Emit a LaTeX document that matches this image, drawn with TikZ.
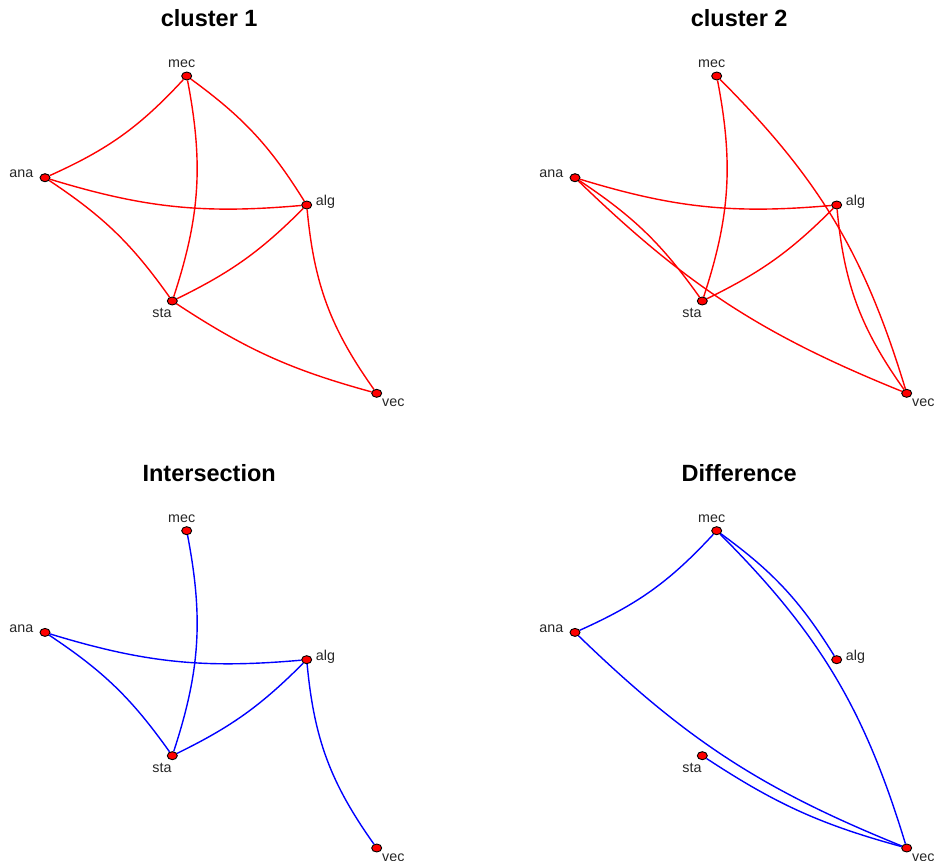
\documentclass[tikz,border=0pt]{standalone}
\usepackage{fontspec}
\setmainfont{Liberation Sans}
\usetikzlibrary{shapes.geometric,backgrounds}
\tikzset{
 vert/.style={ellipse,draw=black,fill=red,line width=0.9pt,minimum width=10pt,minimum height=8pt,inner sep=0pt},
 vlab/.style={anchor=base,font=\fontsize{14.3}{16}\selectfont,text=black!85,inner sep=0pt},
 ttl/.style={anchor=base,font=\bfseries\fontsize{23.5}{28}\selectfont,inner sep=0pt},
 redge/.style={draw=red,line width=1.4pt},
 bedge/.style={draw=blue,line width=1.4pt},
}
\newcommand{\vertset}[3]{%
 \begin{scope}[shift={(#2,#3)}]
  \node[vert] (#1mec) at (186.7,76) {};
  \node[vert] (#1ana) at (45,177.7) {};
  \node[vert] (#1alg) at (306.7,205) {};
  \node[vert] (#1sta) at (172.3,301) {};
  \node[vert] (#1vec) at (376.7,393.3) {};
  \node[vlab] (#1mecl) at (181.7,67.3) {mec};
  \node[vlab] (#1anal) at (21.3,177.3) {ana};
  \node[vlab] (#1algl) at (325.5,205.7) {alg};
  \node[vlab] (#1stal) at (162,317.3) {sta};
  \node[vlab] (#1vecl) at (393.3,406.7) {vec};
 \end{scope}}
\begin{document}
\begin{tikzpicture}[x=1pt,y=-1pt]
\useasboundingbox (0,0) rectangle (935,861);
\node[ttl] (t1) at (209.2,26.7) {cluster 1};
\node[ttl] (t2) at (739.2,26.7) {cluster 2};
\node[ttl] (t3) at (209.2,481.4) {Intersection};
\node[ttl] (t4) at (739.2,481.4) {Difference};
\vertset{p1}{0}{0}
\vertset{p2}{530}{0}
\vertset{p3}{0}{454.7}
\vertset{p4}{530}{454.7}
\begin{scope}[on background layer]
 % cluster 1
 \draw[redge] (p1ana) to[bend right=11.5] (p1mec);
 \draw[redge] (p1mec) to[bend left=14.5] (p1sta);
 \draw[redge] (p1mec) to[bend left=11] (p1alg);
 \draw[redge] (p1ana) to[bend right=11] (p1alg);
 \draw[redge] (p1ana) to[bend left=10.5] (p1sta);
 \draw[redge] (p1sta) to[bend right=9.5] (p1alg);
 \draw[redge] (p1alg) to[bend right=15] (p1vec);
 \draw[redge] (p1sta) to[bend right=9] (p1vec);
 % cluster 2
 \draw[redge] (p2mec) to[bend left=14.5] (p2sta);
 \draw[redge] (p2ana) to[bend right=11] (p2alg);
 \draw[redge] (p2sta) to[bend right=9.5] (p2alg);
 \draw[redge] (p2ana) to[bend left=10.5] (p2sta);
 \draw[redge] (p2alg) to[bend right=15] (p2vec);
 \draw[redge] (p2mec) to[bend left=14] (p2vec);
 \draw[redge] (p2ana) to[bend right=11] (p2vec);
 % intersection
 \draw[bedge] (p3mec) to[bend left=14.5] (p3sta);
 \draw[bedge] (p3ana) to[bend right=11] (p3alg);
 \draw[bedge] (p3ana) to[bend left=10.5] (p3sta);
 \draw[bedge] (p3sta) to[bend right=9.5] (p3alg);
 \draw[bedge] (p3alg) to[bend right=15] (p3vec);
 % difference
 \draw[bedge] (p4ana) to[bend right=11.5] (p4mec);
 \draw[bedge] (p4mec) to[bend left=11] (p4alg);
 \draw[bedge] (p4mec) to[bend left=14] (p4vec);
 \draw[bedge] (p4ana) to[bend right=11] (p4vec);
 \draw[bedge] (p4sta) to[bend right=9] (p4vec);
\end{scope}
\end{tikzpicture}
\end{document}
